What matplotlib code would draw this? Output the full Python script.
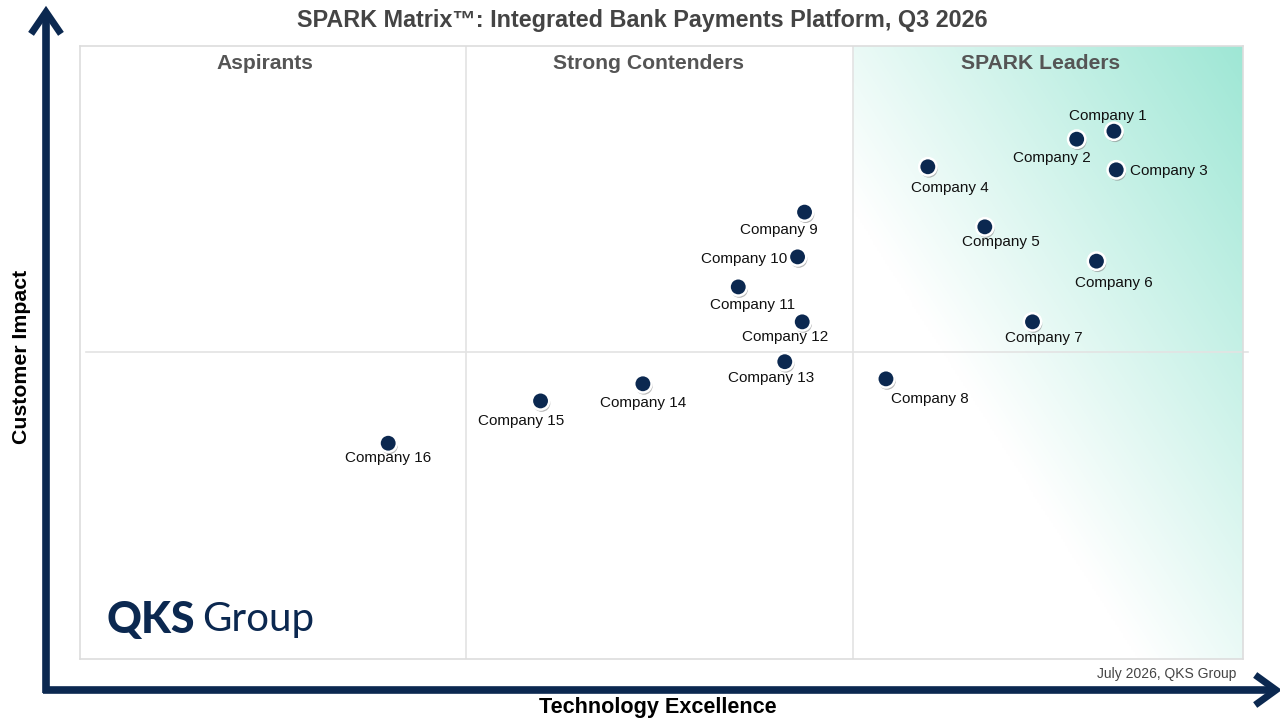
import numpy as np
import matplotlib.pyplot as plt
from matplotlib import patheffects

# vendor positions (0-100 on both axes)
companies = ['Company 1', 'Company 2', 'Company 3', 'Company 4', 'Company 5',
             'Company 6', 'Company 7', 'Company 8', 'Company 9', 'Company 10',
             'Company 11', 'Company 12', 'Company 13', 'Company 14',
             'Company 15', 'Company 16']
tech_excellence = [88.9, 85.7, 89.1, 72.9, 77.8, 87.4, 81.9, 69.3,
                   62.3, 61.7, 56.6, 62.1, 60.6, 48.4, 39.6, 26.5]
customer_impact = [86.1, 84.8, 79.8, 80.3, 70.5, 64.9, 55.0, 45.7,
                   72.9, 65.6, 60.7, 55.0, 48.5, 44.9, 42.1, 35.2]
quadrants = ['Aspirants', 'Strong Contenders', 'SPARK Leaders']
x_splits = [33.2, 66.5]
y_split = 50.1

# label placement (pixel offsets from the marker, horizontal alignment)
label_pos = [(-6, 15, 'center'), (-25, -19, 'center'), (14, -1, 'left'),
             (22, -21, 'center'), (16, -15, 'center'), (17, -22, 'center'),
             (11, -16, 'center'), (44, -20, 'center'), (-26, -18, 'center'),
             (-10, -2, 'right'), (14, -18, 'center'), (-17, -15, 'center'),
             (-14, -16, 'center'), (0, -19, 'center'), (-19, -20, 'center'),
             (0, -15, 'center')]

NAVY = '#0b2850'
plt.rcParams['font.family'] = ['Liberation Sans', 'DejaVu Sans']

fig = plt.figure(figsize=(12.8, 7.2), dpi=100)

# background layer in pixel coordinates for arrows and outer text
bg = fig.add_axes([0, 0, 1, 1])
bg.set_xlim(0, 1280)
bg.set_ylim(720, 0)
bg.axis('off')

bg.plot([46, 46], [693, 14], color=NAVY, lw=5.5, solid_capstyle='butt')
bg.plot([33, 46, 59], [31, 12, 31], color=NAVY, lw=5, solid_joinstyle='miter')
bg.plot([43, 1272], [690, 690], color=NAVY, lw=5.5, solid_capstyle='butt')
bg.plot([1258, 1276, 1258], [677, 690, 703], color=NAVY, lw=5,
        solid_joinstyle='miter')

bg.text(642, 20, 'SPARK Matrix\u2122: Integrated Bank Payments Platform, Q3 2026',
        ha='center', va='center', fontsize=16.8, fontweight='bold',
        color='#444444')
bg.text(22, 357, 'Customer Impact', rotation=90, ha='center', va='center',
        fontsize=15.3, fontweight='bold', color='black')
bg.text(658, 708, 'Technology Excellence', ha='center', va='center',
        fontsize=15.6, fontweight='bold', color='black')
bg.text(1236, 674, 'July 2026, QKS Group', ha='right', va='center',
        fontsize=10, color='#444444')

# main matrix
ax = fig.add_axes([80 / 1280, 61 / 720, 1163 / 1280, 613 / 720])
ax.set_xlim(0, 100)
ax.set_ylim(0, 100)
ax.set_xticks([])
ax.set_yticks([])
for sp in ax.spines.values():
    sp.set_color('#dddddd')
    sp.set_linewidth(1.2)

# teal wash in the leaders column, strongest in the top-right corner
ny, nx = 300, 200
u = np.linspace(0, 1, nx)[None, :]
w = np.linspace(0, 1, ny)[:, None]
s = np.clip(0.79 * (u - w) + 0.21, 0, 1)
teal = np.array([0.62, 0.905, 0.835])
img = 1 - s[..., None] * (1 - teal)
ax.imshow(img, extent=[x_splits[1], 100, 0, 100], origin='upper',
          aspect='auto', zorder=0, interpolation='bilinear')

for xs in x_splits:
    ax.axvline(xs, color='#e3e3e3', lw=1.2, zorder=1)
ax.plot([0.005, 1.004], [y_split / 100] * 2, transform=ax.transAxes,
        color='#e3e3e3', lw=1.2, zorder=1, clip_on=False)

quad_x = [15.9, 48.9, 82.6]
for qx, name in zip(quad_x, quadrants):
    ax.text(qx, 97.2, name, ha='center', va='center', fontsize=15.2,
            fontweight='bold', color='#555555')

ax.plot(tech_excellence, customer_impact, 'o', ms=12.5, color=NAVY,
        mec='white', mew=1.8, zorder=3,
        path_effects=[patheffects.SimplePatchShadow(offset=(0.8, -1.6),
                                                    shadow_rgbFace='#888888',
                                                    alpha=0.6),
                      patheffects.Normal()])

for name, x, y, (dx, dy, ha) in zip(companies, tech_excellence,
                                    customer_impact, label_pos):
    ax.annotate(name, (x, y), xytext=(dx, dy), textcoords='offset pixels',
                ha=ha, va='center', fontsize=11, color='#111111', zorder=4)

# logo
ax.text(106, 620, 'QKS', transform=bg.transData, ha='left', va='center',
        fontsize=31, fontweight='black', color=NAVY, family='Lato')
ax.text(202, 620, 'Group', transform=bg.transData, ha='left', va='center',
        fontsize=29, color=NAVY, family='Lato')

fig.savefig('out.png', dpi=100)
